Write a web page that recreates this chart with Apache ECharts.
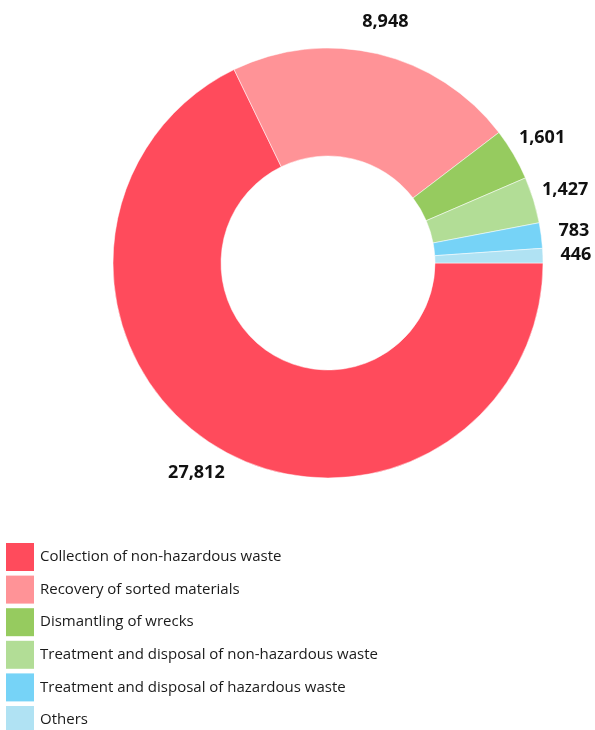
<!DOCTYPE html>
<html>
<head>
<meta charset="utf-8">
<script src="https://cdn.jsdelivr.net/npm/echarts@6/dist/echarts.min.js"></script>
<style>html,body{margin:0;padding:0;background:#fff;}#c{width:595px;height:730px;}</style>
</head>
<body>
<div id="c"></div>
<script>
const categories = [
  'Collection of non-hazardous waste',
  'Recovery of sorted materials',
  'Dismantling of wrecks',
  'Treatment and disposal of non-hazardous waste',
  'Treatment and disposal of hazardous waste',
  'Others'
];
const values = [27812, 8948, 1601, 1427, 783, 446];
const colors = ['#ff4b5c', '#ff9397', '#96cb5f', '#b2dd96', '#76d3f7', '#b0e2f3'];

const data = categories.map((n, i) => ({ name: n, value: values[i] }));
const fmt = v => v.toLocaleString('en-US');

const chart = echarts.init(document.getElementById('c'), null, { renderer: 'canvas' });
chart.setOption({
  animation: false,
  color: colors,
  legend: {
    orient: 'vertical',
    left: 6,
    top: 543,
    height: 400,
    padding: 0,
    itemWidth: 28,
    itemHeight: 28,
    itemGap: 4.6,
    itemStyle: { borderWidth: 0 },
    icon: 'rect',
    data: categories,
    textStyle: { fontFamily: 'Open Sans', fontSize: 15, color: '#1a1a1a', padding: [5, 0, 0, 1] },
    selectedMode: false
  },
  series: [
    {
      type: 'pie',
      center: [328, 263],
      radius: [107, 215],
      startAngle: 0,
      clockwise: true,
      silent: true,
      label: { show: false },
      labelLine: { show: false },
      itemStyle: { borderColor: '#fff', borderWidth: 0.5 },
      data: data
    },
    {
      type: 'pie',
      center: [328, 263],
      radius: [215, 275],
      startAngle: 0,
      clockwise: true,
      silent: true,
      itemStyle: { color: 'rgba(0,0,0,0)' },
      label: {
        show: true,
        position: 'inside',
        formatter: p => fmt(p.value),
        fontFamily: 'Open Sans',
        fontWeight: 'bold',
        fontSize: 18,
        color: '#111'
      },
      labelLine: { show: false },
      data: data
    }
  ]
});
</script>
</body>
</html>
